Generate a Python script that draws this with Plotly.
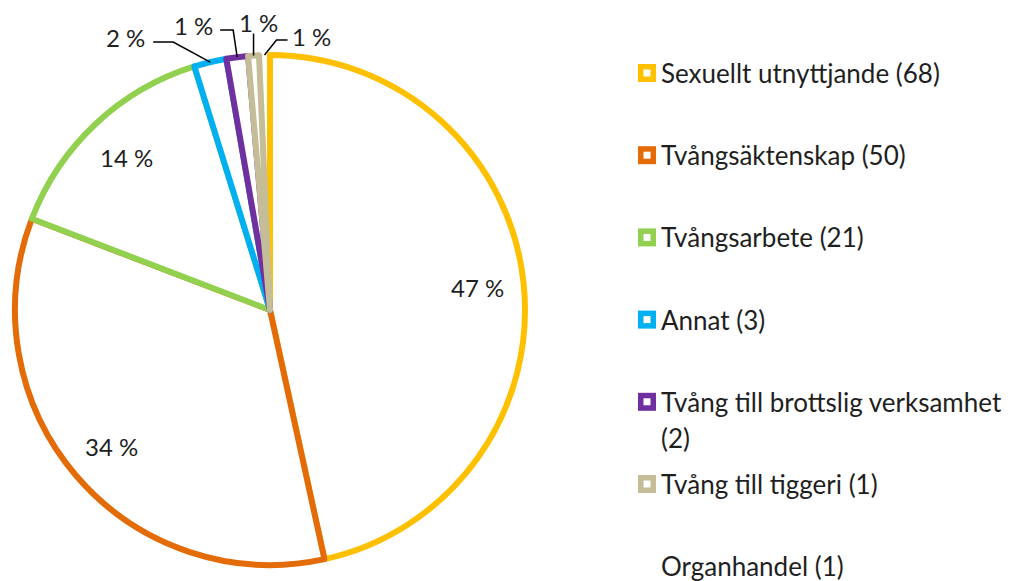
import math
import plotly.graph_objects as go

# ---- data ----
categories = ["Sexuellt utnyttjande", "Tvångsäktenskap", "Tvångsarbete", "Annat",
              "Tvång till brottslig verksamhet", "Tvång till tiggeri", "Organhandel"]
counts = [68, 50, 21, 3, 2, 1, 1]
colors = ["#FFC000", "#E36C09", "#92D050", "#00B0F0", "#7030A0", "#C4BD97", None]

# ---- layout / style ----
W, H = 1016, 581
cx, cy, R = 270, 310, 255
LINE_W = 6
FONT = "Lato"
TXT = "#1f1f1f"

def px(x):
    return x / W

def py(y):
    return 1 - y / H

total = sum(counts)
line_colors = [c if c else "rgba(0,0,0,0)" for c in colors]
fill_colors = ["rgba(255,255,255,1)" if c else "rgba(0,0,0,0)" for c in colors]

fig = go.Figure(go.Pie(
    values=counts, labels=categories, sort=False, direction="clockwise", rotation=0,
    marker=dict(colors=fill_colors, line=dict(color=line_colors, width=LINE_W)),
    textinfo="none", hoverinfo="label+value+percent", showlegend=False,
    domain=dict(x=[px(cx - R), px(cx + R)], y=[py(cy + R), py(cy - R)]),
))

annotations = []
shapes = []

# inside labels for large slices, leader-line labels for the small ones
outside_style = {
    3: dict(elbow=(-37, -20), end=(-57, -20), text=(-85, -25)),
    4: dict(elbow=(-4, -27), end=(-17, -27), text=(-44, -32)),
    5: dict(elbow=(0, -22), end=(0, -22), text=(5, -33)),
    6: dict(elbow=(12, -15), end=(23, -15), text=(47, -19)),
}
cum = 0
for i, v in enumerate(counts):
    mid = (cum + v / 2) / total * 2 * math.pi
    cum += v
    label = f"{round(v / total * 100)} %"
    if i in outside_style:
        st = outside_style[i]
        rx, ry = cx + R * math.sin(mid), cy - R * math.cos(mid)
        ex, ey = rx + st["elbow"][0], ry + st["elbow"][1]
        nx, ny = rx + st["end"][0], ry + st["end"][1]
        shapes.append(dict(type="path", xref="paper", yref="paper",
                           path=f"M {px(rx)} {py(ry)} L {px(ex)} {py(ey)} L {px(nx)} {py(ny)}",
                           line=dict(color="#000000", width=1.5)))
        tx, ty = rx + st["text"][0], ry + st["text"][1]
    else:
        tx, ty = cx + 0.82 * R * math.sin(mid), cy - 0.82 * R * math.cos(mid)
    annotations.append(dict(x=px(tx), y=py(ty), xref="paper", yref="paper", text=label,
                            showarrow=False, xanchor="center", yanchor="middle",
                            font=dict(family=FONT, size=24, color=TXT)))

# custom legend
leg_x_marker = 647
leg_x_text = 659
leg_y0, leg_step = 73, 82.2
for i, (cat, v) in enumerate(zip(categories, counts)):
    y = leg_y0 + i * leg_step
    full = f"{cat} ({v})"
    lines = [full]
    if len(full) > 30:
        lines = [cat, f"({v})"]
    for j, ln in enumerate(lines):
        annotations.append(dict(x=px(leg_x_text), y=py(y + j * 36), xref="paper", yref="paper",
                                text=ln, showarrow=False, xanchor="left", yanchor="middle",
                                font=dict(family=FONT, size=26, color=TXT)))
    if colors[i]:
        s = 9
        shapes.append(dict(type="rect", xref="paper", yref="paper",
                           x0=px(leg_x_marker - s), x1=px(leg_x_marker + s),
                           y0=py(y + s), y1=py(y - s),
                           fillcolor=colors[i], line=dict(width=0)))
        s2 = 3.5
        shapes.append(dict(type="rect", xref="paper", yref="paper",
                           x0=px(leg_x_marker - s2), x1=px(leg_x_marker + s2),
                           y0=py(y + s2), y1=py(y - s2),
                           fillcolor="white", line=dict(width=0)))

fig.update_layout(
    width=W, height=H, margin=dict(l=0, r=0, t=0, b=0),
    paper_bgcolor="white", plot_bgcolor="white",
    annotations=annotations, shapes=shapes,
)

fig.write_html("out.html", config={"displayModeBar": False},
               post_script="document.body.style.margin='0';")
